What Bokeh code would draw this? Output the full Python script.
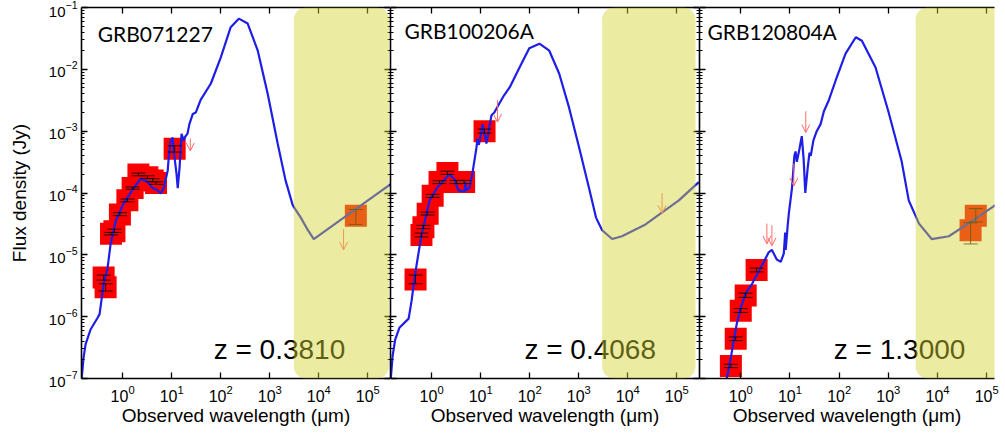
from bokeh.plotting import figure
from bokeh.layouts import row
from bokeh.models import (ColumnDataSource, Range1d, LogAxis, FixedTicker, Whisker, TeeHead,
                          Arrow, OpenHead, Label, BoxAnnotation)
from bokeh.embed import file_html
from bokeh.resources import INLINE

# ---------------- data ----------------
X_START = 0.145
X_END = [2.9e5, 2.9e5, 1.44e5]
X_TICKS = [1, 10, 100, 1e3, 1e4, 1e5]
Y_TICKS = [1e-7, 1e-6, 1e-5, 1e-4, 1e-3, 1e-2, 1e-1]
Y_MINOR = [m * t for t in Y_TICKS[:-1] for m in range(2, 10)]

titles = ["GRB071227", "GRB100206A", "GRB120804A"]
z_labels = ["z = 0.3810", "z = 0.4068", "z = 1.3000"]
x_label = "Observed wavelength (\u03bcm)"
y_label = "Flux density (Jy)"

# model SEDs (wavelength in micron, flux in Jy)
sed1_lam = [0.146, 0.16, 0.176, 0.222, 0.309, 0.339, 0.41, 0.494, 0.569, 0.72, 1.05, 1.33, 1.68, 2.33,
            3.24, 4.1, 5.2, 6.0, 6.9, 8.3, 8.7, 9.5, 10.5, 11.0, 12.6, 13.3, 14.5, 15.9, 17.6,
            18.4, 21, 23, 27, 31, 39, 63, 100, 160, 234, 355, 570, 910, 1450, 2100, 2950, 4300,
            6000, 7900, 4.5e4, 2.95e5]
sed1_flux = [1.0e-7, 2.2e-7, 3.6e-7, 6.2e-7, 9.6e-7, 1.1e-6, 3.4e-6, 6.2e-6, 1.5e-5, 3.5e-5, 6.8e-5, 9.1e-5,
             1.2e-4, 1.7e-4, 1.5e-4, 1.2e-4, 1.1e-4, 9.8e-5, 1.2e-4, 2.3e-4, 3.7e-4, 7.0e-4, 7.9e-4,
             4.9e-4, 2.0e-4, 1.2e-4, 2.6e-4, 9.1e-4, 7.0e-4, 7.9e-4, 9.1e-4, 1.3e-3, 1.9e-3, 2.0e-3,
             3.2e-3, 5.9e-3, 1.55e-2, 4.8e-2, 6.6e-2, 5.5e-2, 2.0e-2, 4.0e-3, 6.3e-4, 1.6e-4, 6.3e-5,
             4.0e-5, 2.5e-5, 1.8e-5, 4.8e-5, 1.4e-4]
sed2_lam = [0.147, 0.16, 0.18, 0.22, 0.34, 0.39, 0.45, 0.52, 0.63, 0.79, 0.91, 1.3, 2.3, 2.9, 3.5, 4.7,
            4.9, 5.1, 5.9, 6.8, 8.2, 8.6, 9.2, 10.4, 11.0, 13.1, 15.0, 16.6, 19, 24, 30, 39, 62,
            98, 158, 251, 400, 635, 1020, 1620, 2250, 3000, 4800, 7600, 2.3e4, 1.1e5, 2.8e5]
sed2_flux = [1.0e-7, 2.3e-7, 4.2e-7, 6.6e-7, 9.3e-7, 1.8e-6, 4.3e-6, 8.9e-6, 2.2e-5, 4.7e-5, 7.6e-5, 1.23e-4,
             2.0e-4, 1.7e-4, 1.1e-4, 1.05e-4, 1.5e-4, 1.1e-4, 1.2e-4, 2.1e-4, 5.4e-4, 7.5e-4, 6.0e-4,
             1.0e-3, 1.3e-3, 6.3e-4, 1.15e-3, 1.8e-3, 2.0e-3, 2.8e-3, 3.8e-3, 5.1e-3, 1.07e-2,
             2.2e-2, 2.6e-2, 2.0e-2, 8.5e-3, 2.4e-3, 5.4e-4, 1.2e-4, 4.0e-5, 2.5e-5, 1.8e-5, 2.0e-5,
             3.1e-5, 7.6e-5, 1.5e-4]
sed3_lam = [0.52, 0.63, 0.72, 0.83, 1.0, 1.26, 1.7, 2.55, 3.7, 4.3, 5.4, 6.5, 7.5, 8.0, 8.2, 9.0,
            9.5, 11, 12.3, 13.0, 13.8, 15.5, 17.4, 19, 20.5, 23, 25, 26.5, 30, 35, 42, 49, 62, 85,
            135, 218, 290, 550, 1000, 1860, 2600, 4200, 7600, 1.7e4, 5e4, 1.74e5, 2.2e5]
sed3_flux = [1.0e-7, 2.2e-7, 4.1e-7, 7.7e-7, 1.4e-6, 2.4e-6, 3.4e-6, 6.2e-6, 1.1e-5, 1.2e-5, 8.4e-6,
             7.7e-6, 1.05e-5, 2.3e-5, 1.2e-5, 3.0e-5, 4.7e-5, 1.2e-4, 4.0e-4, 4.7e-4, 3.2e-4, 5.0e-4,
             8.3e-4, 3.5e-4, 1.0e-4, 2.6e-4, 4.5e-4, 4.0e-4, 7.1e-4, 1.0e-3, 1.3e-3, 2.1e-3, 3.2e-3,
             6.6e-3, 1.8e-2, 3.3e-2, 2.9e-2, 1.07e-2, 2.1e-3, 3.3e-4, 7.6e-5, 3.2e-5, 1.8e-5, 2.0e-5,
             3.5e-5, 6.9e-5, 9.1e-5]

# photometry (wavelength, flux, lower, upper)
obs1_lam = [0.41, 0.45, 0.58, 0.68, 0.88, 1.25, 1.6, 2.1, 3.2, 4.1, 4.8, 11.5, 5.7e4]
obs1_flux = [4.3e-6, 3.0e-6, 2.2e-5, 2.4e-5, 4.5e-5, 7.6e-5, 1.2e-4, 2.0e-4, 1.8e-4, 1.6e-4, 1.45e-4,
             5.2e-4, 4.3e-5]
obs1_lo = [3.9e-6, 2.6e-6, 2.1e-5, 2.3e-5, 4.3e-5, 7.2e-5, 1.15e-4, 1.9e-4, 1.72e-4, 1.52e-4,
           1.38e-4, 4.6e-4, 3.1e-5]
obs1_hi = [4.7e-6, 3.4e-6, 2.3e-5, 2.6e-5, 4.8e-5, 8.0e-5, 1.25e-4, 2.1e-4, 1.9e-4, 1.7e-4, 1.52e-4,
           5.8e-4, 5.4e-5]
obs2_lam = [0.47, 0.62, 0.68, 0.83, 1.05, 1.45, 2.1, 3.2, 4.6, 12]
obs2_flux = [4.0e-6, 2.1e-5, 2.8e-5, 4.6e-5, 9.0e-5, 1.5e-4, 2.1e-4, 1.5e-4, 1.5e-4, 1.0e-3]
obs2_lo = [3.4e-6, 1.95e-5, 2.65e-5, 4.4e-5, 8.5e-5, 1.42e-4, 2.0e-4, 1.42e-4, 1.42e-4, 9.3e-4]
obs2_hi = [4.7e-6, 2.25e-5, 3.0e-5, 4.9e-5, 9.5e-5, 1.58e-4, 2.25e-4, 1.6e-4, 1.6e-4, 1.08e-3]
obs3_lam = [0.63, 0.79, 1.0, 1.26, 2.1, 6.0e4, 4.7e4]
obs3_flux = [1.6e-7, 4.4e-7, 1.25e-6, 2.2e-6, 5.7e-6, 4.3e-5, 2.5e-5]
obs3_lo = [1.5e-7, 4.1e-7, 1.17e-6, 2.05e-6, 5.3e-6, 3.4e-5, 1.5e-5]
obs3_hi = [1.7e-7, 4.7e-7, 1.35e-6, 2.4e-6, 6.1e-6, 5.6e-5, 3.3e-5]

# upper limits (wavelength, limit, arrow tip)
ul1_lam = [24, 3.2e4]
ul1_flux = [7.6e-4, 2.6e-5]
ul1_tip = [4.8e-4, 1.2e-5]
ul2_lam = [22, 5.0e4]
ul2_flux = [3.2e-3, 1.0e-4]
ul2_tip = [1.4e-3, 4.7e-5]
ul3_lam = [21, 12, 3.4, 4.3]
ul3_flux = [2.1e-3, 3.0e-4, 3.2e-5, 3.0e-5]
ul3_tip = [9.5e-4, 1.3e-4, 1.5e-5, 1.4e-5]

# sub-mm / radio shaded band (left, right)
band_left = [3100, 3000, 3600]
band_right = [2.7e5, 2.4e5, 1.0e6]

# text anchors (data units)
title_x = [0.31, 0.28, 0.21]
title_y = [3.8e-2, 4.2e-2, 4.1e-2]
z_x = [72, 78, 78]
z_y = 2.9e-7

SEDS = [(sed1_lam, sed1_flux), (sed2_lam, sed2_flux), (sed3_lam, sed3_flux)]
OBS = [(obs1_lam, obs1_flux, obs1_lo, obs1_hi), (obs2_lam, obs2_flux, obs2_lo, obs2_hi),
       (obs3_lam, obs3_flux, obs3_lo, obs3_hi)]
ULS = [(ul1_lam, ul1_flux, ul1_tip), (ul2_lam, ul2_flux, ul2_tip), (ul3_lam, ul3_flux, ul3_tip)]

# ---------------- style ----------------
FONT = "Liberation Sans"
FRAME_H = 371
FRAME_W = [309, 309, 295]
BORDER_L = [81, 0, 0]
BORDER_R = [0, 0, 6]


def style(ax, labels):
    ax.axis_line_color = "black"
    ax.axis_line_width = 1.6
    ax.major_tick_line_color = "black"
    ax.major_tick_line_width = 1.3
    ax.minor_tick_line_color = "black"
    ax.minor_tick_line_width = 1.0
    ax.major_tick_in = 6
    ax.major_tick_out = 0
    ax.minor_tick_in = 3
    ax.minor_tick_out = 0
    ax.major_label_text_font = FONT
    ax.axis_label_text_font = FONT
    ax.axis_label_text_font_style = "normal"
    ax.axis_label_text_color = "black"
    if labels:
        ax.major_label_text_color = "black"
        ax.major_label_text_font_size = "16px"
        ax.major_label_standoff = 5
    else:
        ax.major_label_text_alpha = 0.0
        ax.major_label_text_font_size = "1px"
        ax.major_label_standoff = 0


def make_panel(i):
    p = figure(x_axis_type="log", y_axis_type="log",
               x_range=Range1d(X_START, X_END[i]), y_range=Range1d(1e-7, 1e-1),
               frame_width=FRAME_W[i], frame_height=FRAME_H,
               min_border_left=BORDER_L[i], min_border_right=BORDER_R[i],
               min_border_top=7, min_border_bottom=0,
               output_backend="svg", toolbar_location=None)
    p.grid.visible = False
    p.outline_line_color = None
    p.background_fill_color = "white"
    p.border_fill_color = "white"

    xa = p.xaxis[0]
    xa.ticker = FixedTicker(ticks=X_TICKS, minor_ticks=[])
    style(xa, True)
    xa.axis_label = x_label
    xa.axis_label_text_font_size = "19px"
    xa.axis_label_standoff = 0
    xa.major_label_standoff = 6

    ya = p.yaxis[0]
    ya.ticker = FixedTicker(ticks=Y_TICKS, minor_ticks=Y_MINOR)
    style(ya, i == 0)
    if i == 0:
        ya.axis_label = y_label
        ya.axis_label_text_font_size = "19px"
        ya.axis_label_standoff = 16
        ya.major_label_text_font_size = "15px"
        ya.major_label_standoff = 4

    top = LogAxis(ticker=FixedTicker(ticks=X_TICKS, minor_ticks=[]))
    style(top, False)
    p.add_layout(top, "above")
    if i < 2:
        right = LogAxis(ticker=FixedTicker(ticks=Y_TICKS, minor_ticks=Y_MINOR))
        style(right, False)
        p.add_layout(right, "right")

    lam, flux, lo, hi = OBS[i]
    src = ColumnDataSource(dict(x=lam, y=flux, lo=lo, hi=hi))
    p.scatter("x", "y", source=src, marker="square", size=22,
              fill_color="#fa0000", line_color=None)
    p.line(SEDS[i][0], SEDS[i][1], line_color="#1e1ee8", line_width=2.2)

    p.add_layout(Whisker(source=src, base="x", lower="lo", upper="hi", dimension="height",
                         line_color="black", line_width=0.8,
                         upper_head=TeeHead(size=14, line_color="black", line_width=0.8),
                         lower_head=TeeHead(size=14, line_color="black", line_width=0.8),
                         level="annotation"))
    ul_lam, ul_flux, ul_tip = ULS[i]
    usrc = ColumnDataSource(dict(x=ul_lam, y=ul_flux, t=ul_tip))
    p.add_layout(Arrow(source=usrc, x_start="x", y_start="y", x_end="x", y_end="t",
                       line_color="#ff6a6a", line_width=1.0,
                       end=OpenHead(size=8, line_color="#ff6a6a", line_width=1.0),
                       level="annotation"))
    p.add_layout(Label(x=z_x[i], y=z_y, text=z_labels[i], text_font=FONT,
                       text_font_size="28px", text_color="black",
                       text_baseline="alphabetic", level="annotation"))
    radius = 12 if i < 2 else (12, 0, 0, 12)
    p.add_layout(BoxAnnotation(left=band_left[i], right=band_right[i], bottom=1e-7, top=1e-1,
                               fill_color="#d2d22e", fill_alpha=0.45, line_color=None,
                               border_radius=radius, level="annotation"))
    p.add_layout(Label(x=title_x[i], y=title_y[i], text=titles[i], text_font="Lato",
                       text_font_size="21px", text_color="black",
                       text_baseline="alphabetic", level="annotation"))
    return p


panels = [make_panel(i) for i in range(3)]
layout = row(*panels, spacing=0)
open("out.html", "w").write(file_html(layout, INLINE))
